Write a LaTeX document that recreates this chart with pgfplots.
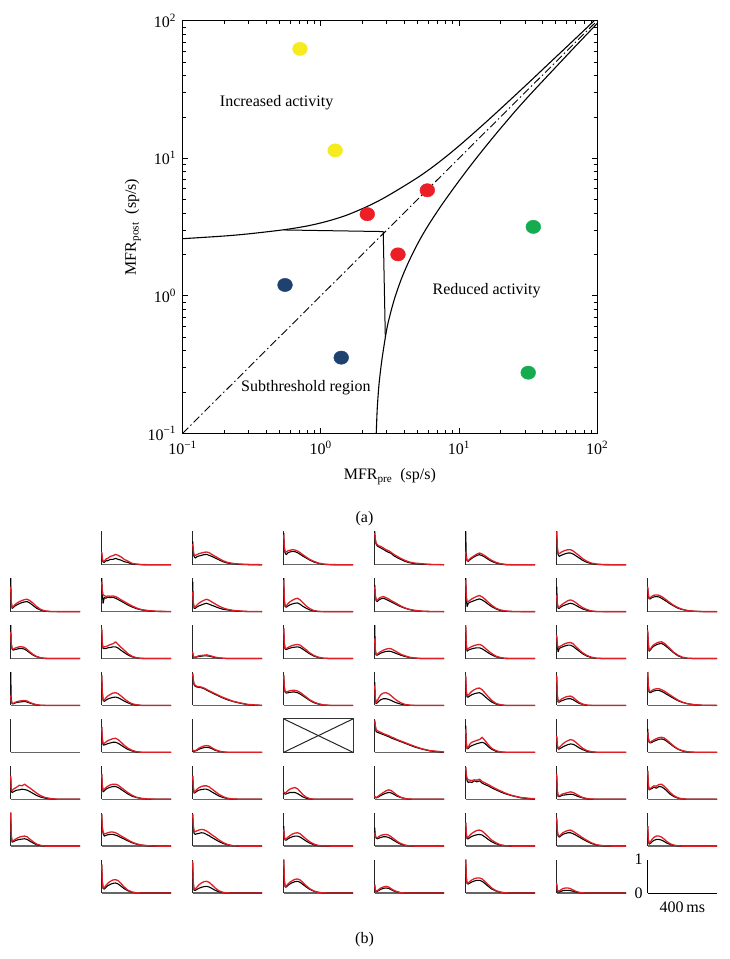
\documentclass[border=0pt]{standalone}
\usepackage{fontspec}
\setmainfont{Liberation Serif}
\usepackage{pgfplots}
\usepackage{pgfplotstable}
\pgfplotsset{compat=1.18}
\definecolor{cyel}{RGB}{245,235,30}
\definecolor{cred}{RGB}{236,30,38}
\definecolor{cgrn}{RGB}{20,172,78}
\definecolor{cblu}{RGB}{30,65,112}
\definecolor{tred}{RGB}{222,32,38}
\newcommand\ff{\fontsize{16}{19}\selectfont}

% ---- PSTH tables: x (ms), b = black trace, r = red trace ----
\pgfplotstableread[row sep=\\]{x b r\\0 0.35 0.38\\3 0.15 0.2\\8 0.08 0.1\\15 0.07 0.11\\25 0.12 0.17\\35 0.12 0.19\\50 0.16 0.25\\65 0.16 0.27\\80 0.19 0.31\\95 0.16 0.28\\110 0.14 0.24\\130 0.09 0.16\\150 0.07 0.11\\175 0.02 0.04\\200 0.01 0.02\\230 0 0.005\\270 0 0\\320 0 0\\400 0 0\\}\tAB
\pgfplotstableread[row sep=\\]{x b r\\0 0.7 0.62\\3 0.35 0.45\\8 0.25 0.3\\15 0.2 0.28\\25 0.24 0.3\\35 0.26 0.33\\50 0.28 0.35\\65 0.3 0.37\\80 0.31 0.38\\95 0.28 0.36\\110 0.25 0.31\\130 0.2 0.25\\150 0.15 0.19\\175 0.09 0.12\\200 0.05 0.07\\230 0.03 0.04\\270 0.01 0.02\\320 0 0.01\\400 0 0\\}\tAC
\pgfplotstableread[row sep=\\]{x b r\\0 0.95 0.9\\3 0.5 0.55\\8 0.35 0.4\\15 0.3 0.38\\25 0.36 0.42\\35 0.38 0.43\\50 0.4 0.45\\65 0.39 0.44\\80 0.36 0.41\\95 0.31 0.36\\110 0.26 0.3\\130 0.2 0.23\\150 0.14 0.16\\175 0.08 0.1\\200 0.04 0.05\\230 0.01 0.02\\270 0 0.005\\320 0 0\\400 0 0\\}\tAD
\pgfplotstableread[row sep=\\]{x b r\\0 1.0 0.95\\3 0.75 0.78\\8 0.62 0.65\\15 0.56 0.6\\25 0.53 0.56\\35 0.5 0.55\\50 0.46 0.5\\65 0.41 0.45\\80 0.37 0.42\\95 0.34 0.37\\110 0.27 0.31\\130 0.21 0.25\\150 0.16 0.19\\175 0.1 0.13\\200 0.06 0.08\\230 0.03 0.05\\270 0.015 0.03\\320 0.005 0.01\\400 0 0\\}\tAE
\pgfplotstableread[row sep=\\]{x b r\\0 1.0 0.4\\3 0.3 0.2\\8 0.12 0.12\\15 0.1 0.12\\25 0.15 0.18\\35 0.19 0.22\\50 0.24 0.27\\65 0.28 0.32\\80 0.3 0.35\\95 0.27 0.32\\110 0.23 0.27\\130 0.16 0.2\\150 0.1 0.13\\175 0.05 0.07\\200 0.02 0.03\\230 0 0.01\\270 0 0\\320 0 0\\400 0 0\\}\tAF
\pgfplotstableread[row sep=\\]{x b r\\0 1.0 1.0\\3 0.5 0.55\\8 0.3 0.36\\15 0.25 0.33\\25 0.28 0.37\\35 0.3 0.4\\50 0.33 0.43\\65 0.35 0.45\\80 0.35 0.45\\95 0.32 0.41\\110 0.27 0.35\\130 0.2 0.27\\150 0.13 0.18\\175 0.07 0.1\\200 0.03 0.05\\230 0.01 0.02\\270 0 0.005\\320 0 0\\400 0 0\\}\tAG
\pgfplotstableread[row sep=\\]{x b r\\0 1.0 0.75\\3 0.3 0.3\\8 0.1 0.12\\15 0.12 0.15\\25 0.17 0.21\\35 0.2 0.25\\50 0.24 0.3\\65 0.27 0.33\\80 0.29 0.36\\95 0.3 0.37\\110 0.26 0.33\\130 0.18 0.25\\150 0.1 0.15\\175 0.04 0.06\\200 0.01 0.02\\230 0 0.005\\270 0 0\\320 0 0\\400 0 0\\}\tBA
\pgfplotstableread[row sep=\\]{x b r\\0 1.0 0.9\\3 0.6 0.65\\8 0.25 0.5\\15 0.42 0.48\\25 0.4 0.45\\35 0.43 0.47\\50 0.42 0.46\\65 0.43 0.47\\80 0.4 0.45\\95 0.36 0.41\\110 0.32 0.36\\130 0.26 0.3\\150 0.2 0.24\\175 0.14 0.17\\200 0.09 0.11\\230 0.05 0.06\\270 0.02 0.03\\320 0.005 0.01\\400 0 0\\}\tBB
\pgfplotstableread[row sep=\\]{x b r\\0 0.9 0.6\\3 0.3 0.3\\8 0.1 0.12\\15 0.1 0.14\\25 0.14 0.2\\35 0.17 0.25\\50 0.2 0.3\\65 0.23 0.34\\80 0.25 0.37\\95 0.22 0.34\\110 0.19 0.29\\130 0.15 0.23\\150 0.11 0.17\\175 0.07 0.11\\200 0.05 0.07\\230 0.03 0.04\\270 0.01 0.02\\320 0 0.005\\400 0 0\\}\tBC
\pgfplotstableread[row sep=\\]{x b r\\0 1.0 0.95\\3 0.35 0.4\\8 0.15 0.17\\15 0.13 0.17\\25 0.17 0.24\\35 0.2 0.29\\50 0.23 0.34\\65 0.25 0.38\\80 0.26 0.4\\95 0.22 0.35\\110 0.16 0.27\\130 0.1 0.17\\150 0.05 0.09\\175 0.02 0.03\\200 0 0.01\\230 0 0\\270 0 0\\320 0 0\\400 0 0\\}\tBD
\pgfplotstableread[row sep=\\]{x b r\\0 0.8 0.75\\3 0.5 0.5\\8 0.33 0.36\\15 0.3 0.34\\25 0.35 0.4\\35 0.38 0.43\\50 0.4 0.45\\65 0.37 0.42\\80 0.33 0.38\\95 0.29 0.33\\110 0.25 0.29\\130 0.2 0.23\\150 0.15 0.17\\175 0.1 0.11\\200 0.06 0.07\\230 0.03 0.04\\270 0.01 0.015\\320 0 0.005\\400 0 0\\}\tBE
\pgfplotstableread[row sep=\\]{x b r\\0 1.0 0.95\\3 0.45 0.5\\8 0.15 0.3\\15 0.25 0.3\\25 0.28 0.34\\35 0.3 0.38\\50 0.33 0.42\\65 0.36 0.46\\80 0.38 0.48\\95 0.35 0.44\\110 0.3 0.38\\130 0.22 0.28\\150 0.15 0.19\\175 0.08 0.1\\200 0.03 0.05\\230 0.01 0.02\\270 0 0.005\\320 0 0\\400 0 0\\}\tBF
\pgfplotstableread[row sep=\\]{x b r\\0 0.75 0.5\\3 0.3 0.25\\8 0.1 0.12\\15 0.1 0.13\\25 0.14 0.19\\35 0.17 0.23\\50 0.2 0.28\\65 0.23 0.33\\80 0.25 0.35\\95 0.23 0.32\\110 0.19 0.27\\130 0.13 0.19\\150 0.08 0.12\\175 0.04 0.06\\200 0.01 0.02\\230 0 0.005\\270 0 0\\320 0 0\\400 0 0\\}\tBG
\pgfplotstableread[row sep=\\]{x b r\\0 0.7 0.75\\3 0.5 0.55\\8 0.38 0.4\\15 0.38 0.42\\25 0.42 0.46\\35 0.44 0.49\\50 0.45 0.5\\65 0.44 0.49\\80 0.4 0.45\\95 0.35 0.4\\110 0.3 0.34\\130 0.23 0.26\\150 0.17 0.19\\175 0.1 0.12\\200 0.06 0.07\\230 0.03 0.03\\270 0.01 0.01\\320 0 0\\400 0 0\\}\tBH
\pgfplotstableread[row sep=\\]{x b r\\0 1.0 0.8\\3 0.45 0.45\\8 0.28 0.3\\15 0.25 0.28\\25 0.27 0.31\\35 0.28 0.33\\50 0.3 0.35\\65 0.3 0.35\\80 0.28 0.33\\95 0.23 0.27\\110 0.17 0.2\\130 0.1 0.12\\150 0.05 0.06\\175 0.02 0.02\\200 0 0.005\\230 0 0\\270 0 0\\320 0 0\\400 0 0\\}\tCA
\pgfplotstableread[row sep=\\]{x b r\\0 0.85 0.9\\3 0.45 0.5\\8 0.3 0.32\\15 0.3 0.35\\25 0.3 0.36\\35 0.32 0.38\\50 0.33 0.42\\65 0.35 0.44\\80 0.35 0.5\\95 0.31 0.42\\110 0.25 0.34\\130 0.18 0.25\\150 0.11 0.15\\175 0.05 0.07\\200 0.02 0.02\\230 0 0.005\\270 0 0\\320 0 0\\400 0 0\\}\tCB
\pgfplotstableread[row sep=\\]{x b r\\0 0.15 0.2\\3 0.06 0.08\\8 0.03 0.04\\15 0.03 0.04\\25 0.05 0.06\\35 0.06 0.08\\50 0.07 0.09\\65 0.08 0.1\\80 0.08 0.11\\95 0.07 0.09\\110 0.05 0.07\\130 0.03 0.04\\150 0.015 0.02\\175 0.005 0.01\\200 0 0\\230 0 0\\270 0 0\\320 0 0\\400 0 0\\}\tCC
\pgfplotstableread[row sep=\\]{x b r\\0 0.9 0.9\\3 0.45 0.5\\8 0.28 0.3\\15 0.27 0.3\\25 0.29 0.33\\35 0.31 0.36\\50 0.33 0.39\\65 0.34 0.41\\80 0.35 0.42\\95 0.33 0.4\\110 0.28 0.34\\130 0.21 0.26\\150 0.14 0.17\\175 0.07 0.09\\200 0.03 0.04\\230 0.005 0.01\\270 0 0\\320 0 0\\400 0 0\\}\tCD
\pgfplotstableread[row sep=\\]{x b r\\0 1.0 0.6\\3 0.3 0.25\\8 0.1 0.12\\15 0.1 0.13\\25 0.13 0.17\\35 0.16 0.21\\50 0.19 0.25\\65 0.21 0.28\\80 0.22 0.3\\95 0.21 0.29\\110 0.18 0.25\\130 0.14 0.19\\150 0.1 0.13\\175 0.06 0.08\\200 0.03 0.04\\230 0.01 0.015\\270 0 0\\320 0 0\\400 0 0\\}\tCE
\pgfplotstableread[row sep=\\]{x b r\\0 0.95 1.0\\3 0.4 0.45\\8 0.22 0.26\\15 0.25 0.3\\25 0.27 0.33\\35 0.29 0.36\\50 0.31 0.39\\65 0.32 0.41\\80 0.32 0.42\\95 0.29 0.39\\110 0.24 0.32\\130 0.17 0.23\\150 0.11 0.15\\175 0.05 0.07\\200 0.02 0.03\\230 0 0.005\\270 0 0\\320 0 0\\400 0 0\\}\tCF
\pgfplotstableread[row sep=\\]{x b r\\0 0.65 0.7\\3 0.4 0.45\\8 0.2 0.32\\15 0.3 0.35\\25 0.33 0.38\\35 0.35 0.41\\50 0.38 0.45\\65 0.4 0.47\\80 0.4 0.48\\95 0.36 0.44\\110 0.3 0.36\\130 0.22 0.26\\150 0.14 0.17\\175 0.07 0.09\\200 0.03 0.04\\230 0.005 0.01\\270 0 0\\320 0 0\\400 0 0\\}\tCG
\pgfplotstableread[row sep=\\]{x b r\\0 0.8 0.85\\3 0.45 0.5\\8 0.22 0.25\\15 0.25 0.28\\25 0.32 0.36\\35 0.37 0.41\\50 0.41 0.46\\65 0.44 0.49\\80 0.45 0.5\\95 0.41 0.46\\110 0.35 0.39\\130 0.26 0.29\\150 0.17 0.19\\175 0.08 0.1\\200 0.03 0.04\\230 0.005 0.01\\270 0 0\\320 0 0\\400 0 0\\}\tCH
\pgfplotstableread[row sep=\\]{x b r\\0 1.0 0.3\\3 0.2 0.12\\8 0.05 0.06\\15 0.05 0.06\\25 0.07 0.09\\35 0.09 0.11\\50 0.1 0.13\\65 0.11 0.14\\80 0.12 0.15\\95 0.1 0.13\\110 0.07 0.09\\130 0.04 0.05\\150 0.01 0.02\\175 0 0.005\\200 0 0\\230 0 0\\270 0 0\\320 0 0\\400 0 0\\}\tDA
\pgfplotstableread[row sep=\\]{x b r\\0 0.9 0.9\\3 0.4 0.45\\8 0.15 0.17\\15 0.12 0.16\\25 0.16 0.23\\35 0.19 0.28\\50 0.22 0.33\\65 0.24 0.37\\80 0.25 0.38\\95 0.23 0.35\\110 0.19 0.29\\130 0.13 0.2\\150 0.08 0.12\\175 0.03 0.05\\200 0.01 0.02\\230 0 0\\270 0 0\\320 0 0\\400 0 0\\}\tDB
\pgfplotstableread[row sep=\\]{x b r\\0 0.95 0.95\\3 0.75 0.78\\8 0.62 0.64\\15 0.57 0.6\\25 0.55 0.57\\35 0.54 0.56\\50 0.53 0.55\\65 0.5 0.52\\80 0.46 0.48\\95 0.42 0.44\\110 0.38 0.4\\130 0.33 0.35\\150 0.28 0.3\\175 0.22 0.24\\200 0.17 0.19\\230 0.12 0.13\\270 0.07 0.08\\320 0.02 0.03\\400 0 0\\}\tDC
\pgfplotstableread[row sep=\\]{x b r\\0 0.9 0.9\\3 0.55 0.58\\8 0.4 0.42\\15 0.37 0.4\\25 0.38 0.42\\35 0.39 0.44\\50 0.4 0.45\\65 0.4 0.45\\80 0.38 0.43\\95 0.34 0.39\\110 0.29 0.33\\130 0.22 0.25\\150 0.15 0.17\\175 0.08 0.1\\200 0.04 0.05\\230 0.01 0.015\\270 0 0\\320 0 0\\400 0 0\\}\tDD
\pgfplotstableread[row sep=\\]{x b r\\0 0.7 0.6\\3 0.2 0.25\\8 0.05 0.08\\15 0.08 0.14\\25 0.13 0.24\\35 0.17 0.32\\50 0.2 0.37\\65 0.2 0.38\\80 0.18 0.35\\95 0.15 0.29\\110 0.11 0.22\\130 0.07 0.14\\150 0.04 0.08\\175 0.02 0.03\\200 0 0.01\\230 0 0\\270 0 0\\320 0 0\\400 0 0\\}\tDE
\pgfplotstableread[row sep=\\]{x b r\\0 0.85 0.9\\3 0.4 0.45\\8 0.25 0.3\\15 0.25 0.31\\25 0.29 0.37\\35 0.32 0.42\\50 0.35 0.47\\65 0.37 0.51\\80 0.38 0.52\\95 0.34 0.47\\110 0.27 0.38\\130 0.18 0.26\\150 0.1 0.15\\175 0.04 0.06\\200 0.01 0.02\\230 0 0\\270 0 0\\320 0 0\\400 0 0\\}\tDF
\pgfplotstableread[row sep=\\]{x b r\\0 0.85 0.9\\3 0.3 0.35\\8 0.1 0.12\\15 0.1 0.13\\25 0.13 0.18\\35 0.15 0.21\\50 0.18 0.25\\65 0.2 0.27\\80 0.2 0.28\\95 0.17 0.24\\110 0.12 0.17\\130 0.06 0.09\\150 0.03 0.04\\175 0 0.01\\200 0 0\\230 0 0\\270 0 0\\320 0 0\\400 0 0\\}\tDG
\pgfplotstableread[row sep=\\]{x b r\\0 1.0 1.0\\3 0.6 0.62\\8 0.4 0.42\\15 0.38 0.41\\25 0.41 0.45\\35 0.43 0.48\\50 0.45 0.5\\65 0.45 0.5\\80 0.42 0.47\\95 0.38 0.43\\110 0.33 0.38\\130 0.27 0.31\\150 0.21 0.24\\175 0.14 0.16\\200 0.09 0.1\\230 0.05 0.05\\270 0.02 0.02\\320 0 0.005\\400 0 0\\}\tDH
\pgfplotstableread[row sep=\\]{x b r\\0 0.75 0.75\\3 0.4 0.45\\8 0.22 0.26\\15 0.22 0.27\\25 0.24 0.31\\35 0.26 0.35\\50 0.28 0.38\\65 0.3 0.41\\80 0.3 0.42\\95 0.27 0.38\\110 0.22 0.31\\130 0.15 0.21\\150 0.09 0.13\\175 0.04 0.06\\200 0.01 0.02\\230 0 0\\270 0 0\\320 0 0\\400 0 0\\}\tEB
\pgfplotstableread[row sep=\\]{x b r\\0 0.06 0.08\\3 0.04 0.05\\8 0.03 0.04\\15 0.04 0.05\\25 0.06 0.08\\35 0.09 0.12\\50 0.12 0.16\\65 0.14 0.19\\80 0.15 0.2\\95 0.14 0.19\\110 0.11 0.14\\130 0.06 0.08\\150 0.03 0.04\\175 0.01 0.01\\200 0 0\\230 0 0\\270 0 0\\320 0 0\\400 0 0\\}\tEC
\pgfplotstableread[row sep=\\]{x b r\\0 0.95 0.95\\3 0.8 0.82\\8 0.62 0.68\\15 0.6 0.65\\25 0.58 0.62\\35 0.56 0.6\\50 0.53 0.56\\65 0.5 0.53\\80 0.47 0.5\\95 0.43 0.46\\110 0.4 0.43\\130 0.36 0.38\\150 0.32 0.34\\175 0.27 0.29\\200 0.22 0.24\\230 0.16 0.18\\270 0.1 0.11\\320 0.04 0.05\\400 0 0.01\\}\tEE
\pgfplotstableread[row sep=\\]{x b r\\0 0.8 0.7\\3 0.3 0.3\\8 0.1 0.12\\15 0.12 0.16\\25 0.17 0.25\\35 0.2 0.3\\50 0.23 0.33\\65 0.26 0.36\\80 0.28 0.38\\95 0.3 0.45\\110 0.27 0.36\\130 0.17 0.23\\150 0.09 0.12\\175 0.03 0.05\\200 0.01 0.01\\230 0 0\\270 0 0\\320 0 0\\400 0 0\\}\tEF
\pgfplotstableread[row sep=\\]{x b r\\0 0.45 0.5\\3 0.2 0.25\\8 0.1 0.12\\15 0.1 0.14\\25 0.13 0.2\\35 0.16 0.25\\50 0.2 0.31\\65 0.23 0.35\\80 0.25 0.38\\95 0.24 0.36\\110 0.2 0.3\\130 0.13 0.21\\150 0.08 0.12\\175 0.03 0.05\\200 0.01 0.02\\230 0 0\\270 0 0\\320 0 0\\400 0 0\\}\tEG
\pgfplotstableread[row sep=\\]{x b r\\0 0.7 0.6\\3 0.45 0.45\\8 0.3 0.32\\15 0.28 0.3\\25 0.3 0.34\\35 0.33 0.37\\50 0.36 0.41\\65 0.39 0.44\\80 0.4 0.45\\95 0.38 0.43\\110 0.33 0.37\\130 0.25 0.28\\150 0.17 0.19\\175 0.09 0.1\\200 0.04 0.05\\230 0.01 0.015\\270 0 0\\320 0 0\\400 0 0\\}\tEH
\pgfplotstableread[row sep=\\]{x b r\\0 0.65 0.7\\3 0.25 0.28\\8 0.2 0.25\\15 0.22 0.3\\25 0.25 0.33\\35 0.27 0.36\\50 0.28 0.42\\65 0.3 0.4\\80 0.29 0.45\\95 0.27 0.39\\110 0.23 0.34\\130 0.17 0.26\\150 0.11 0.18\\175 0.06 0.1\\200 0.03 0.05\\230 0.01 0.02\\270 0 0\\320 0 0\\400 0 0\\}\tFA
\pgfplotstableread[row sep=\\]{x b r\\0 0.75 0.75\\3 0.4 0.45\\8 0.22 0.26\\15 0.25 0.3\\25 0.3 0.35\\35 0.33 0.39\\50 0.36 0.43\\65 0.38 0.45\\80 0.38 0.45\\95 0.35 0.42\\110 0.3 0.36\\130 0.23 0.28\\150 0.16 0.2\\175 0.09 0.12\\200 0.05 0.06\\230 0.02 0.025\\270 0 0.005\\320 0 0\\400 0 0\\}\tFB
\pgfplotstableread[row sep=\\]{x b r\\0 0.7 0.7\\3 0.35 0.4\\8 0.18 0.2\\15 0.2 0.24\\25 0.24 0.3\\35 0.27 0.34\\50 0.29 0.38\\65 0.3 0.4\\80 0.3 0.4\\95 0.27 0.37\\110 0.22 0.31\\130 0.16 0.23\\150 0.1 0.15\\175 0.05 0.08\\200 0.02 0.03\\230 0.005 0.01\\270 0 0\\320 0 0\\400 0 0\\}\tFC
\pgfplotstableread[row sep=\\]{x b r\\0 0.2 0.22\\3 0.17 0.2\\8 0.15 0.18\\15 0.16 0.21\\25 0.18 0.26\\35 0.2 0.3\\50 0.2 0.33\\65 0.2 0.35\\80 0.17 0.31\\95 0.12 0.23\\110 0.07 0.14\\130 0.03 0.06\\150 0.01 0.02\\175 0 0\\200 0 0\\230 0 0\\270 0 0\\320 0 0\\400 0 0\\}\tFD
\pgfplotstableread[row sep=\\]{x b r\\0 0.08 0.1\\3 0.05 0.06\\8 0.04 0.05\\15 0.05 0.07\\25 0.08 0.11\\35 0.11 0.15\\50 0.15 0.2\\65 0.18 0.25\\80 0.2 0.28\\95 0.19 0.26\\110 0.15 0.2\\130 0.09 0.12\\150 0.05 0.06\\175 0.02 0.02\\200 0 0.005\\230 0 0\\270 0 0\\320 0 0\\400 0 0\\}\tFE
\pgfplotstableread[row sep=\\]{x b r\\0 0.95 0.95\\3 0.7 0.75\\8 0.55 0.62\\15 0.5 0.58\\25 0.52 0.57\\35 0.5 0.56\\50 0.55 0.58\\65 0.52 0.57\\80 0.55 0.6\\95 0.48 0.53\\110 0.44 0.49\\130 0.4 0.44\\150 0.34 0.38\\175 0.28 0.31\\200 0.22 0.25\\230 0.16 0.18\\270 0.1 0.11\\320 0.04 0.05\\400 0 0.01\\}\tFF
\pgfplotstableread[row sep=\\]{x b r\\0 0.7 0.75\\3 0.25 0.3\\8 0.08 0.1\\15 0.08 0.1\\25 0.1 0.13\\35 0.12 0.16\\50 0.13 0.18\\65 0.14 0.2\\80 0.15 0.22\\95 0.14 0.2\\110 0.11 0.16\\130 0.07 0.1\\150 0.04 0.05\\175 0.01 0.02\\200 0 0.005\\230 0 0\\270 0 0\\320 0 0\\400 0 0\\}\tFG
\pgfplotstableread[row sep=\\]{x b r\\0 0.85 0.85\\3 0.45 0.5\\8 0.28 0.3\\15 0.3 0.32\\25 0.32 0.36\\35 0.36 0.4\\50 0.33 0.39\\65 0.38 0.44\\80 0.37 0.45\\95 0.32 0.39\\110 0.25 0.31\\130 0.15 0.2\\150 0.08 0.11\\175 0.03 0.04\\200 0.01 0.01\\230 0 0\\270 0 0\\320 0 0\\400 0 0\\}\tFH
\pgfplotstableread[row sep=\\]{x b r\\0 1.0 1.0\\3 0.3 0.35\\8 0.12 0.15\\15 0.13 0.16\\25 0.16 0.2\\35 0.18 0.23\\50 0.2 0.27\\65 0.21 0.29\\80 0.22 0.3\\95 0.2 0.28\\110 0.15 0.21\\130 0.09 0.13\\150 0.04 0.06\\175 0.01 0.02\\200 0 0\\230 0 0\\270 0 0\\320 0 0\\400 0 0\\}\tGA
\pgfplotstableread[row sep=\\]{x b r\\0 0.95 0.95\\3 0.55 0.6\\8 0.38 0.42\\15 0.3 0.36\\25 0.32 0.38\\35 0.34 0.4\\50 0.35 0.42\\65 0.35 0.42\\80 0.33 0.4\\95 0.3 0.36\\110 0.26 0.31\\130 0.21 0.25\\150 0.16 0.19\\175 0.1 0.12\\200 0.06 0.07\\230 0.03 0.03\\270 0.005 0.01\\320 0 0\\400 0 0\\}\tGB
\pgfplotstableread[row sep=\\]{x b r\\0 0.95 0.95\\3 0.6 0.65\\8 0.38 0.45\\15 0.35 0.43\\25 0.37 0.46\\35 0.38 0.48\\50 0.4 0.5\\65 0.39 0.49\\80 0.35 0.45\\95 0.31 0.4\\110 0.26 0.34\\130 0.2 0.27\\150 0.14 0.19\\175 0.08 0.11\\200 0.04 0.05\\230 0.01 0.015\\270 0 0\\320 0 0\\400 0 0\\}\tGC
\pgfplotstableread[row sep=\\]{x b r\\0 0.6 0.5\\3 0.3 0.3\\8 0.18 0.2\\15 0.18 0.22\\25 0.22 0.27\\35 0.25 0.31\\50 0.28 0.36\\65 0.3 0.39\\80 0.3 0.4\\95 0.27 0.37\\110 0.22 0.3\\130 0.15 0.21\\150 0.09 0.13\\175 0.04 0.06\\200 0.01 0.02\\230 0 0.005\\270 0 0\\320 0 0\\400 0 0\\}\tGD
\pgfplotstableread[row sep=\\]{x b r\\0 0.55 0.4\\3 0.35 0.3\\8 0.24 0.25\\15 0.22 0.25\\25 0.24 0.29\\35 0.26 0.32\\50 0.28 0.34\\65 0.28 0.35\\80 0.26 0.33\\95 0.22 0.28\\110 0.17 0.22\\130 0.11 0.14\\150 0.06 0.08\\175 0.02 0.03\\200 0.005 0.01\\230 0 0\\270 0 0\\320 0 0\\400 0 0\\}\tGE
\pgfplotstableread[row sep=\\]{x b r\\0 0.7 0.7\\3 0.35 0.4\\8 0.22 0.25\\15 0.22 0.27\\25 0.26 0.33\\35 0.29 0.38\\50 0.32 0.43\\65 0.34 0.47\\80 0.35 0.48\\95 0.33 0.45\\110 0.28 0.38\\130 0.2 0.28\\150 0.13 0.18\\175 0.07 0.1\\200 0.03 0.04\\230 0.01 0.01\\270 0 0\\320 0 0\\400 0 0\\}\tGF
\pgfplotstableread[row sep=\\]{x b r\\0 0.8 0.85\\3 0.45 0.5\\8 0.3 0.32\\15 0.27 0.3\\25 0.31 0.35\\35 0.35 0.4\\50 0.38 0.44\\65 0.4 0.47\\80 0.4 0.48\\95 0.37 0.44\\110 0.33 0.39\\130 0.27 0.32\\150 0.21 0.25\\175 0.14 0.17\\200 0.08 0.1\\230 0.03 0.04\\270 0.005 0.01\\320 0 0\\400 0 0\\}\tGG
\pgfplotstableread[row sep=\\]{x b r\\0 0.6 0.6\\3 0.2 0.25\\8 0.06 0.08\\15 0.08 0.12\\25 0.13 0.2\\35 0.17 0.26\\50 0.2 0.3\\65 0.2 0.3\\80 0.18 0.27\\95 0.14 0.21\\110 0.09 0.14\\130 0.05 0.07\\150 0.02 0.03\\175 0.005 0.01\\200 0 0\\230 0 0\\270 0 0\\320 0 0\\400 0 0\\}\tGH
\pgfplotstableread[row sep=\\]{x b r\\0 0.85 0.85\\3 0.35 0.4\\8 0.13 0.15\\15 0.12 0.16\\25 0.17 0.23\\35 0.22 0.29\\50 0.26 0.35\\65 0.29 0.39\\80 0.3 0.4\\95 0.27 0.37\\110 0.21 0.29\\130 0.13 0.18\\150 0.07 0.09\\175 0.02 0.03\\200 0.005 0.01\\230 0 0\\270 0 0\\320 0 0\\400 0 0\\}\tHB
\pgfplotstableread[row sep=\\]{x b r\\0 0.9 0.95\\3 0.3 0.35\\8 0.08 0.1\\15 0.08 0.12\\25 0.11 0.18\\35 0.14 0.24\\50 0.17 0.3\\65 0.19 0.34\\80 0.2 0.35\\95 0.18 0.32\\110 0.14 0.25\\130 0.08 0.15\\150 0.04 0.07\\175 0.01 0.02\\200 0 0.005\\230 0 0\\270 0 0\\320 0 0\\400 0 0\\}\tHC
\pgfplotstableread[row sep=\\]{x b r\\0 1.0 1.0\\3 0.4 0.45\\8 0.18 0.2\\15 0.18 0.21\\25 0.23 0.27\\35 0.27 0.32\\50 0.31 0.37\\65 0.34 0.41\\80 0.35 0.42\\95 0.32 0.39\\110 0.26 0.32\\130 0.18 0.22\\150 0.11 0.13\\175 0.05 0.06\\200 0.02 0.02\\230 0 0.005\\270 0 0\\320 0 0\\400 0 0\\}\tHD
\pgfplotstableread[row sep=\\]{x b r\\0 0.25 0.25\\3 0.08 0.1\\8 0.04 0.05\\15 0.05 0.07\\25 0.08 0.11\\35 0.11 0.15\\50 0.14 0.18\\65 0.15 0.2\\80 0.14 0.18\\95 0.1 0.13\\110 0.06 0.08\\130 0.03 0.04\\150 0.01 0.01\\175 0 0\\200 0 0\\230 0 0\\270 0 0\\320 0 0\\400 0 0\\}\tHE
\pgfplotstableread[row sep=\\]{x b r\\0 1.0 1.0\\3 0.45 0.5\\8 0.28 0.3\\15 0.27 0.3\\25 0.3 0.35\\35 0.33 0.39\\50 0.36 0.43\\65 0.38 0.45\\80 0.38 0.45\\95 0.35 0.42\\110 0.29 0.35\\130 0.2 0.25\\150 0.12 0.15\\175 0.06 0.07\\200 0.02 0.03\\230 0 0.005\\270 0 0\\320 0 0\\400 0 0\\}\tHF
\pgfplotstableread[row sep=\\]{x b r\\0 0.25 0.3\\3 0.08 0.1\\8 0.03 0.05\\15 0.03 0.06\\25 0.05 0.1\\35 0.07 0.13\\50 0.08 0.15\\65 0.08 0.15\\80 0.07 0.13\\95 0.05 0.09\\110 0.03 0.05\\130 0.01 0.02\\150 0 0.005\\175 0 0\\200 0 0\\230 0 0\\270 0 0\\320 0 0\\400 0 0\\}\tHG

\tikzset{pb/.style={black, line width=1.1pt, line join=round},
         pr/.style={tred, line width=1.3pt, line join=round}}
\pgfplotsset{
  panel/.style={anchor=south west, scale only axis, width=69.3pt, height=33.4pt,
    xmin=0, xmax=400, ymin=0, ymax=1, axis x line*=bottom, axis y line*=left,
    axis line style={-}, x axis line style={black!60, line width=1.3pt},
    y axis line style={black!85, line width=1pt}, ticks=none, clip=false},
}
\newcommand{\panel}[3]{\begin{axis}[panel, at={(#1pt,-#2pt)}]
\addplot[pb] table[x=x, y=b]{#3};
\addplot[pr] table[x=x, y=r]{#3};
\end{axis}}

\begin{document}
\begin{tikzpicture}[font=\ff]
\useasboundingbox (0,0) rectangle (729pt,-959pt);

% ================= (a) =================
\begin{axis}[
  at={(182.6pt,-433.3pt)}, anchor=south west,
  scale only axis, width=414.6pt, height=412.6pt,
  xmode=log, ymode=log, xmin=0.1, xmax=100, ymin=0.1, ymax=100,
  xtick={0.1,1,10,100}, ytick={0.1,1,10,100},
  xticklabels={10\textsuperscript{−1},10\textsuperscript{0},10\textsuperscript{1},10\textsuperscript{2}},
  yticklabels={10\textsuperscript{−1},10\textsuperscript{0},10\textsuperscript{1},10\textsuperscript{2}},
  minor xtick={0.2,0.3,0.4,0.5,0.6,0.7,0.8,0.9,2,3,4,5,6,7,8,9,20,30,40,50,60,70,80,90},
  minor ytick={0.2,0.3,0.4,0.5,0.6,0.7,0.8,0.9,2,3,4,5,6,7,8,9,20,30,40,50,60,70,80,90},
  major tick length=5pt, minor tick length=3pt,
  every tick/.style={black, line width=0.6pt},
  axis line style={line width=0.9pt},
  tick label style={font=\ff},
  xticklabel style={yshift=-4pt},
  yticklabel style={xshift=-3pt},
  xlabel={MFR\textsubscript{pre}~~(sp/s)},
  ylabel={MFR\textsubscript{post}~~(sp/s)},
  label style={font=\ff},
  xlabel style={at={(axis description cs:0.5,-0.105)}, anchor=center},
  ylabel style={at={(axis description cs:-0.12,0.5)}, anchor=center},
]
% identity line
\addplot[black, line width=0.9pt, dash pattern=on 8pt off 3pt on 1.5pt off 3pt]
  coordinates {(0.1,0.1) (100,100)};
% upper boundary
\addplot[black, line width=1.1pt, smooth, tension=0.5] coordinates {
 (0.1,2.6) (0.2,2.72) (0.3,2.82) (0.54,3.02) (0.8,3.22) (1.1,3.47) (1.5,3.82)
 (2.0,4.3) (2.5,4.78) (3.0,5.28) (3.76,6.04) (4.5,6.75) (5.25,7.46) (6.17,8.36)
 (7.24,9.44) (8.51,10.74) (10.47,12.79) (14.13,16.67) (18.62,21.43) (25.12,28.31)
 (32.36,35.89) (44.67,48.75) (57.54,61.94) (75.86,80.54) (100,104.95)};
% lower boundary
\addplot[black, line width=1.1pt, smooth, tension=0.5] coordinates {
 (2.52,0.1) (2.56,0.15) (2.63,0.22) (2.71,0.29) (2.81,0.38) (3.03,0.6) (3.38,0.92)
 (3.8,1.3) (4.25,1.70) (4.8,2.19) (5.3,2.64) (5.89,3.16) (6.6,3.78) (7.31,4.41)
 (8.2,5.2) (9.1,6.01) (10.2,7.03) (11.35,8.11) (13,9.68) (14.9,11.51) (17,13.55)
 (19.6,16.11) (22.5,18.97) (25.8,22.28) (32.7,29.04) (50,45.81) (70,65.61) (100,95.5)};
% threshold lines
\addplot[black, line width=1pt] coordinates {(0.542,3.01) (2.83,2.93) (2.93,0.5)};
% neurons
\addplot[only marks, mark=*, mark size=7.4pt, color=cyel, mark options={yscale=0.9}]
  coordinates {(0.707,62.4) (1.27,11.4)};
\addplot[only marks, mark=*, mark size=7.4pt, color=cred, mark options={yscale=0.9}]
  coordinates {(2.17,3.92) (5.90,5.85) (3.62,2.0)};
\addplot[only marks, mark=*, mark size=7.4pt, color=cgrn, mark options={yscale=0.9}]
  coordinates {(34.5,3.17) (31.7,0.276)};
\addplot[only marks, mark=*, mark size=7.4pt, color=cblu, mark options={yscale=0.9}]
  coordinates {(0.551,1.198) (1.406,0.355)};
\node[font=\ff] at (axis cs:0.479,25.5) {Increased activity};
\node[font=\ff] at (axis cs:15.85,1.089) {Reduced activity};
\node[font=\ff] at (axis cs:0.78,0.216) {Subthreshold region};
\end{axis}
\node[font=\ff] at (364.5pt,-519pt) {(a)};

% ================= (b) =================
% row 0
\panel{101.7}{564.7}{\tAB}
\panel{192.7}{564.7}{\tAC}
\panel{283.7}{564.7}{\tAD}
\panel{374.7}{564.7}{\tAE}
\panel{465.7}{564.7}{\tAF}
\panel{556.7}{564.7}{\tAG}
% row 1
\panel{10.7}{611.6}{\tBA}
\panel{101.7}{611.6}{\tBB}
\panel{192.7}{611.6}{\tBC}
\panel{283.7}{611.6}{\tBD}
\panel{374.7}{611.6}{\tBE}
\panel{465.7}{611.6}{\tBF}
\panel{556.7}{611.6}{\tBG}
\panel{647.7}{611.6}{\tBH}
% row 2
\panel{10.7}{658.5}{\tCA}
\panel{101.7}{658.5}{\tCB}
\panel{192.7}{658.5}{\tCC}
\panel{283.7}{658.5}{\tCD}
\panel{374.7}{658.5}{\tCE}
\panel{465.7}{658.5}{\tCF}
\panel{556.7}{658.5}{\tCG}
\panel{647.7}{658.5}{\tCH}
% row 3
\panel{10.7}{705.4}{\tDA}
\panel{101.7}{705.4}{\tDB}
\panel{192.7}{705.4}{\tDC}
\panel{283.7}{705.4}{\tDD}
\panel{374.7}{705.4}{\tDE}
\panel{465.7}{705.4}{\tDF}
\panel{556.7}{705.4}{\tDG}
\panel{647.7}{705.4}{\tDH}
% row 4
\begin{axis}[panel, at={(10.7pt,-752.3pt)}]
\end{axis}
\panel{101.7}{752.3}{\tEB}
\panel{192.7}{752.3}{\tEC}
\begin{axis}[anchor=south west, scale only axis, width=69.3pt, height=33.4pt,
  xmin=0, xmax=400, ymin=0, ymax=1, ticks=none,
  axis line style={black!80, line width=1pt}, at={(283.7pt,-752.3pt)}]
\addplot[black!85, line width=1pt] coordinates {(0,0) (400,1)};
\addplot[black!85, line width=1pt] coordinates {(0,1) (400,0)};
\end{axis}
\panel{374.7}{752.3}{\tEE}
\panel{465.7}{752.3}{\tEF}
\panel{556.7}{752.3}{\tEG}
\panel{647.7}{752.3}{\tEH}
% row 5
\panel{10.7}{799.2}{\tFA}
\panel{101.7}{799.2}{\tFB}
\panel{192.7}{799.2}{\tFC}
\panel{283.7}{799.2}{\tFD}
\panel{374.7}{799.2}{\tFE}
\panel{465.7}{799.2}{\tFF}
\panel{556.7}{799.2}{\tFG}
\panel{647.7}{799.2}{\tFH}
% row 6
\panel{10.7}{846.1}{\tGA}
\panel{101.7}{846.1}{\tGB}
\panel{192.7}{846.1}{\tGC}
\panel{283.7}{846.1}{\tGD}
\panel{374.7}{846.1}{\tGE}
\panel{465.7}{846.1}{\tGF}
\panel{556.7}{846.1}{\tGG}
\panel{647.7}{846.1}{\tGH}
% row 7
\panel{101.7}{893.0}{\tHB}
\panel{192.7}{893.0}{\tHC}
\panel{283.7}{893.0}{\tHD}
\panel{374.7}{893.0}{\tHE}
\panel{465.7}{893.0}{\tHF}
\panel{556.7}{893.0}{\tHG}
% scale bar
\begin{axis}[anchor=south west, at={(647.7pt,-893pt)}, scale only axis,
  width=69.3pt, height=33.4pt, xmin=0, xmax=400, ymin=0, ymax=1,
  axis x line*=bottom, axis y line*=left, axis line style={-, black, line width=1pt},
  xtick=\empty, ytick={0,1}, yticklabels={0,1}, major tick length=0pt,
  yticklabel style={font=\ff, xshift=-1.5pt},
  xlabel={400\,ms}, xlabel style={font=\ff, at={(axis description cs:0.5,-0.17)}, anchor=north}]
\end{axis}
\node[font=\ff] at (364.5pt,-940pt) {(b)};
\end{tikzpicture}
\end{document}
